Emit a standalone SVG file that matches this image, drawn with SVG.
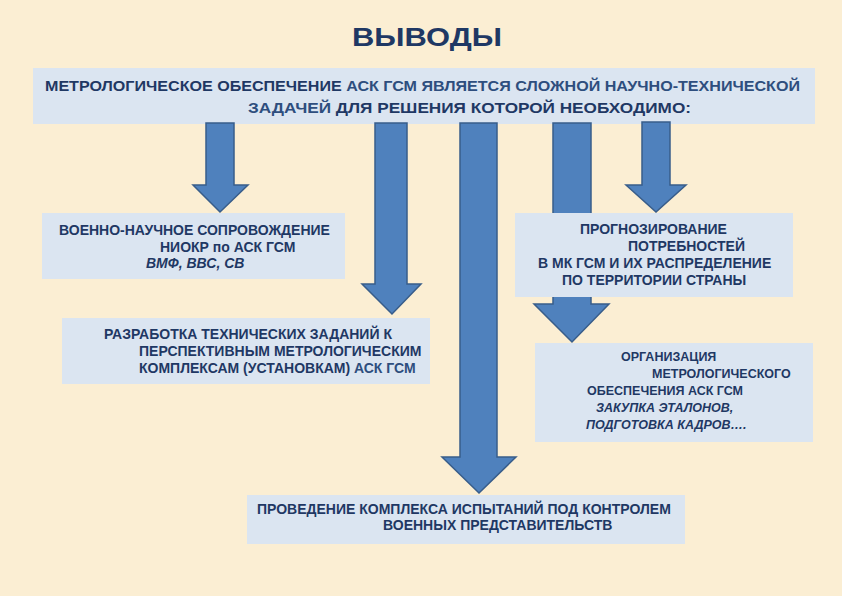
<svg xmlns="http://www.w3.org/2000/svg" width="842" height="596" viewBox="0 0 842 596">
<defs>
<style>
.bg{fill:#FBEED3}
.box{fill:#DBE5F1}
.arrow{fill:#4F81BD;stroke:#385D8A;stroke-width:1.5;stroke-linejoin:miter}
.t{font-family:"Liberation Sans",Arial,sans-serif;font-weight:bold;font-size:14px;fill:#1F3864}
.s{font-size:12.5px}
.i{font-style:italic}
.lt{fill:#2E4E7E}
.title{font-family:"Liberation Sans",Arial,sans-serif;font-weight:bold;font-size:25px;fill:#1F3864}
</style>
</defs>
<rect class="bg" x="0" y="0" width="842" height="596"/>
<text class="title" x="427" y="46" text-anchor="middle" textLength="150" lengthAdjust="spacingAndGlyphs">ВЫВОДЫ</text>

<g id="top">
<rect class="box" x="33" y="68" width="782" height="56"/>
<text class="t" x="45" y="91" font-size="15" textLength="755" lengthAdjust="spacingAndGlyphs">МЕТРОЛОГИЧЕСКОЕ ОБЕСПЕЧЕНИЕ <tspan class="lt">АСК ГСМ ЯВЛЯЕТСЯ СЛОЖНОЙ НАУЧНО-ТЕХНИЧЕСКОЙ</tspan></text>
<text class="t" x="248" y="113" font-size="15" textLength="443" lengthAdjust="spacingAndGlyphs"><tspan class="lt">ЗАДАЧЕЙ</tspan> ДЛЯ РЕШЕНИЯ КОТОРОЙ НЕОБХОДИМО:</text>
</g>

<g id="connectors">
<polygon class="arrow" points="206,123 234,123 234,185 248,185 220,212 193,185 206,185"/>
<polygon class="arrow" points="375,123 407,123 407,284 421,284 392,314 362,284 375,284"/>
<polygon class="arrow" points="460,123 497,123 497,457 516,457 479,493 442,457 460,457"/>
<polygon class="arrow" points="553,123 591,123 591,304 609,304 572,342 534,304 553,304"/>
<polygon class="arrow" points="642,122 670,122 670,185 686,185 656,212 626,185 642,185"/>
</g>

<g id="box-voenno">
<rect class="box" x="42" y="213" width="303" height="66"/>
<text class="t" x="59" y="235">ВОЕННО-НАУЧНОЕ СОПРОВОЖДЕНИЕ</text>
<text class="t" x="160" y="252">НИОКР по АСК ГСМ</text>
<text class="t i" x="146" y="268">ВМФ, ВВС, СВ</text>
</g>

<g id="box-prognoz">
<rect class="box" x="515" y="213" width="278" height="84"/>
<text class="t" x="580" y="234">ПРОГНОЗИРОВАНИЕ</text>
<text class="t" x="628" y="251">ПОТРЕБНОСТЕЙ</text>
<text class="t" x="538" y="268">В МК ГСМ И ИХ РАСПРЕДЕЛЕНИЕ</text>
<text class="t" x="562" y="285">ПО ТЕРРИТОРИИ СТРАНЫ</text>
</g>

<g id="box-razrabotka">
<rect class="box" x="62" y="318" width="368" height="66"/>
<text class="t" x="104" y="339">РАЗРАБОТКА ТЕХНИЧЕСКИХ ЗАДАНИЙ К</text>
<text class="t" x="139" y="356">ПЕРСПЕКТИВНЫМ МЕТРОЛОГИЧЕСКИМ</text>
<text class="t" x="139" y="373">КОМПЛЕКСАМ (УСТАНОВКАМ) <tspan class="lt">АСК ГСМ</tspan></text>
</g>

<g id="box-organizaciya">
<rect class="box" x="535" y="343" width="278" height="99"/>
<text class="t s" x="621" y="361">ОРГАНИЗАЦИЯ</text>
<text class="t s" x="652" y="378">МЕТРОЛОГИЧЕСКОГО</text>
<text class="t s" x="587" y="395">ОБЕСПЕЧЕНИЯ АСК ГСМ</text>
<text class="t s i" x="596" y="412">ЗАКУПКА ЭТАЛОНОВ,</text>
<text class="t s i" x="586" y="429">ПОДГОТОВКА КАДРОВ….</text>
</g>

<g id="box-provedenie">
<rect class="box" x="247" y="495" width="438" height="49"/>
<text class="t" x="257" y="514">ПРОВЕДЕНИЕ КОМПЛЕКСА  ИСПЫТАНИЙ ПОД КОНТРОЛЕМ</text>
<text class="t" x="383" y="530">ВОЕННЫХ ПРЕДСТАВИТЕЛЬСТВ</text>
</g>
</svg>
